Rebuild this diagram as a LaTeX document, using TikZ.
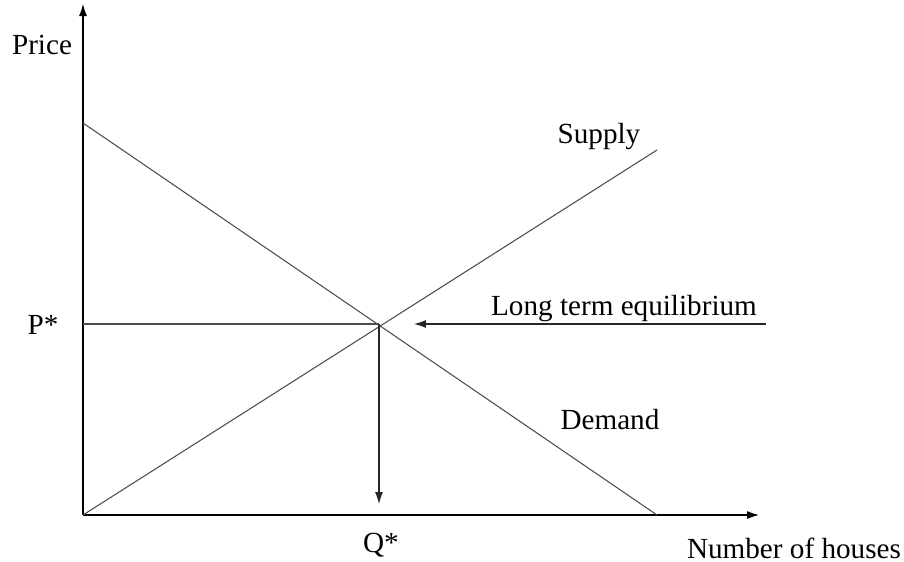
\documentclass[tikz,border=0pt]{standalone}
\usepackage{fontspec}
\setmainfont{Liberation Serif}
\usetikzlibrary{arrows.meta}

\begin{document}
\begin{tikzpicture}[
  x=0.02cm,y=-0.02cm,
  font=\fontsize{16.6}{19}\selectfont,
  >={Latex[length=2.4mm,width=1.6mm]},
  axis/.style={->, line width=0.6pt},
  curve/.style={line width=0.6pt, black!70},
  flow/.style={->, line width=0.6pt, black!85},
  lab/.style={inner sep=1pt},
]
\useasboundingbox (0,0) rectangle (904,562);

%% ---------- AXES ----------
\coordinate (origin) at (83,515);
\coordinate (ytop)   at (83,4);
\coordinate (xend)   at (759,515);
\draw[axis] (origin) -- (ytop);
\draw[axis] (origin) -- (xend);
\node[lab] (price)  at (42,45)  {Price};
\node[lab, anchor=east] (houses) at (903,548) {Number of houses};

%% ---------- CURVES ----------
\coordinate (dtop) at (83,123);
\coordinate (dbot) at (657,515);
\coordinate (stop) at (657,150);
\coordinate (eq)   at (379,324);
\draw[curve] (dtop) -- (dbot);
\draw[curve] (origin) -- (stop);
\node[lab] (supply) at (599,137) {Supply};
\node[lab] (demand) at (610,420) {Demand};

%% ---------- EQUILIBRIUM ----------
\coordinate (pstar) at (83,324);
\coordinate (qstar) at (379,504);
\coordinate (ltend) at (766,324);
\coordinate (ltip)  at (414,324);
\draw[curve] (pstar) -- (eq);
\draw[flow] (eq) -- (qstar);
\draw[flow] (ltend) -- (ltip);
\node[lab] (pst) at (43,325) {P*};
\node[lab] (qst) at (381,545) {Q*};
\node[lab] (lte) at (624,309) {Long term equilibrium};
\end{tikzpicture}
\end{document}
